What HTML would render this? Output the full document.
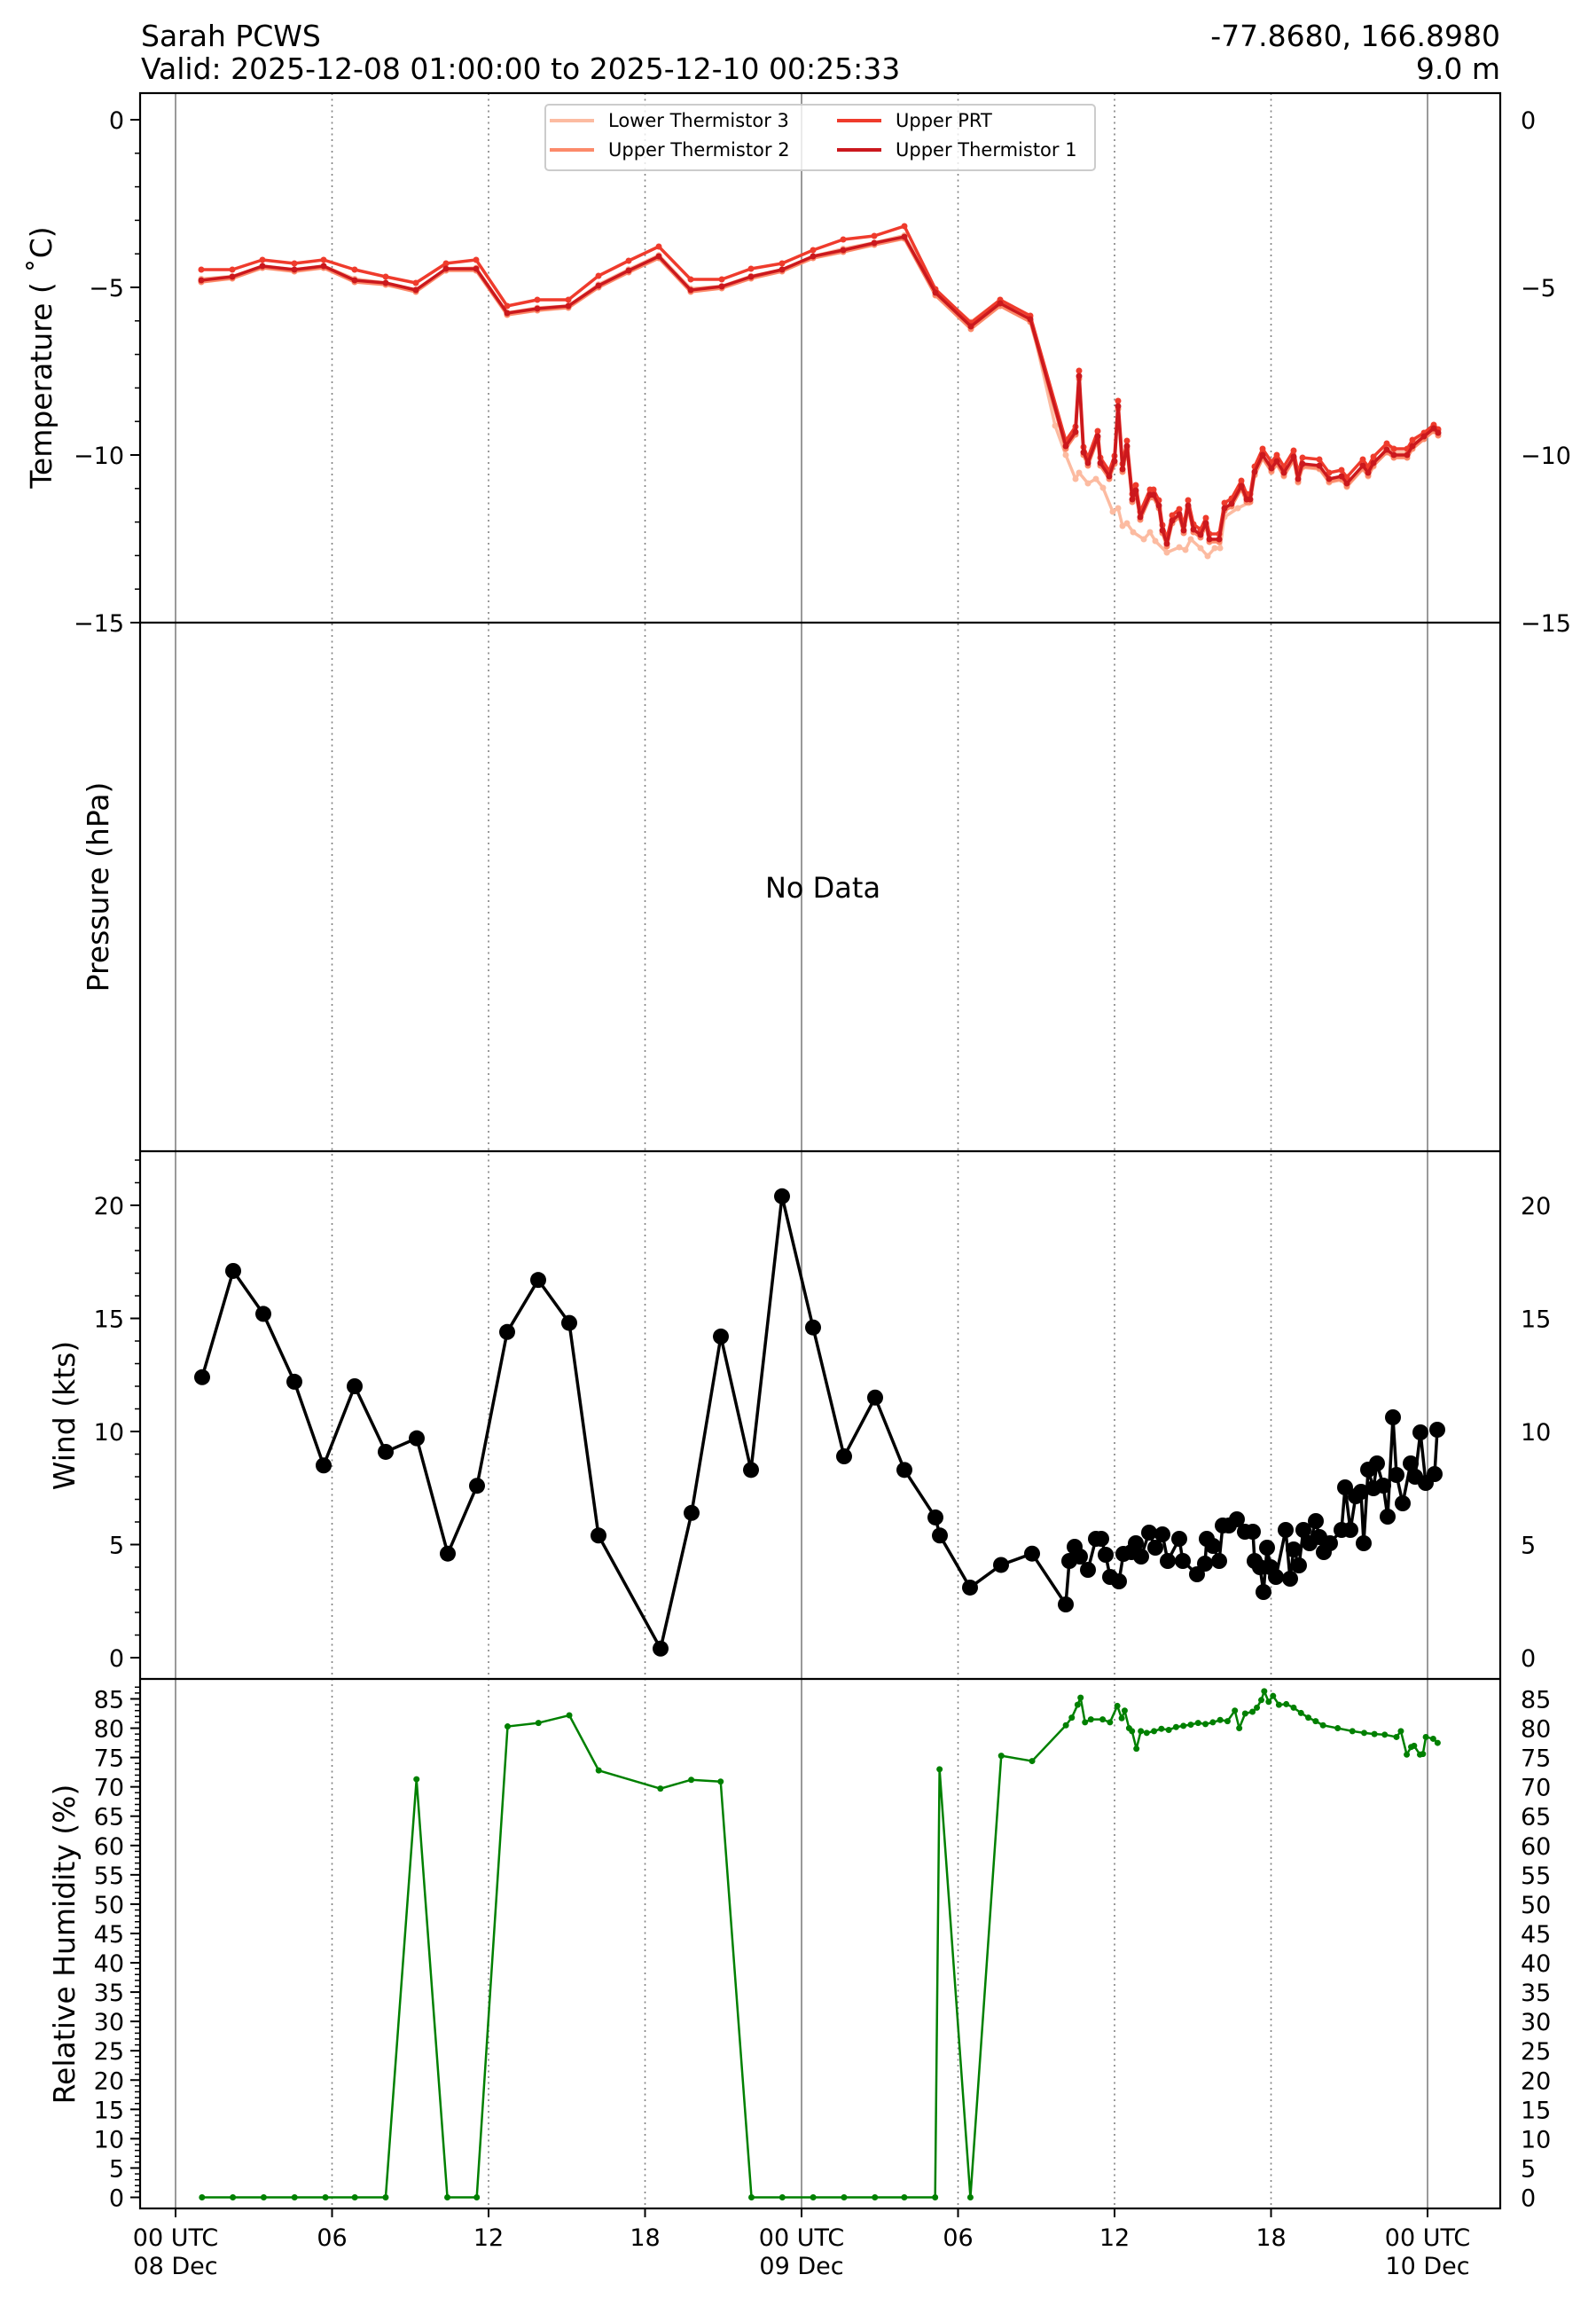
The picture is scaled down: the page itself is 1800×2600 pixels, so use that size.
<!DOCTYPE html>
<html><head><meta charset="utf-8">
<style>
html,body{margin:0;padding:0;background:#fff;}
svg{display:block;font-family:"DejaVu Sans","Liberation Sans",sans-serif;}
</style></head>
<body>
<svg id="c" width="1800" height="2600" viewBox="0 0 1800 2600" xmlns="http://www.w3.org/2000/svg">
<rect width="1800" height="2600" fill="#fff"/>
<text x="159" y="52" font-size="33">Sarah PCWS</text>
<text x="159" y="89" font-size="33">Valid: 2025-12-08 01:00:00 to 2025-12-10 00:25:33</text>
<text x="1692" y="52" font-size="33" text-anchor="end">-77.8680, 166.8980</text>
<text x="1692" y="89" font-size="33" text-anchor="end">9.0 m</text>
<g id="g"></g>
</svg>
<script>
(function(){
var G=document.getElementById('g'),out='';
var P=[105,702,1298,1893,2490];
function X(h){return 198+h*29.417;}
for(var i=0;i<=8;i++){var x=X(i*6);
 if(i%4==0) out+='<line x1="'+x+'" y1="105" x2="'+x+'" y2="2490" stroke="#808080" stroke-width="1.6"/>';
 else out+='<line x1="'+x+'" y1="105" x2="'+x+'" y2="2490" stroke="#808080" stroke-width="1.6" stroke-dasharray="2,4.5"/>';}
out+='<rect x="158" y="105" width="1534" height="2385" fill="none" stroke="#000" stroke-width="2.2"/>';
for(var i=1;i<4;i++) out+='<line x1="158" y1="'+P[i]+'" x2="1692" y2="'+P[i]+'" stroke="#000" stroke-width="2.2"/>';
var lab=[["00 UTC","08 Dec"],["06"],["12"],["18"],["00 UTC","09 Dec"],["06"],["12"],["18"],["00 UTC","10 Dec"]];
for(var i=0;i<=8;i++){var x=X(i*6);
 out+='<line x1="'+x+'" y1="2490" x2="'+x+'" y2="2500" stroke="#000" stroke-width="2"/>';
 out+='<text x="'+x+'" y="2532" font-size="27" text-anchor="middle">'+lab[i][0]+'</text>';
 if(lab[i][1]) out+='<text x="'+x+'" y="2564" font-size="27" text-anchor="middle">'+lab[i][1]+'</text>';}
function yt(vals,fy,minor,fmt){
 for(var k=0;k<minor.length;k++){var y=fy(minor[k]);out+='<line x1="152" y1="'+y+'" x2="158" y2="'+y+'" stroke="#000" stroke-width="1.5"/>';}
 for(var k=0;k<vals.length;k++){var v=vals[k],y=fy(v),s=fmt(v);
  out+='<line x1="147" y1="'+y+'" x2="158" y2="'+y+'" stroke="#000" stroke-width="2"/>';
  out+='<text x="140" y="'+(y+10)+'" font-size="27" text-anchor="end">'+s+'</text>';
  out+='<text x="1715" y="'+(y+10)+'" font-size="27">'+s+'</text>';}
}
function fm(v){return v<0?'\u2212'+(-v):''+v;}
function TY(t){return 135-t*37.8;}
var mn=[];for(var t=0;t>=-15;t--)mn.push(t);
yt([0,-5,-10,-15],TY,mn,fm);
function WY(v){return 1869-v*25.5;}
mn=[];for(var v=0;v<=22;v++)mn.push(v);
yt([0,5,10,15,20],WY,mn,fm);
function HY(v){return 2477.5-v*6.612;}
mn=[];for(var v=0;v<=87;v++)mn.push(v);
var mj=[];for(var v=0;v<=85;v+=5)mj.push(v);
yt(mj,HY,mn,fm);
function yl(t,x,y){out+='<text transform="translate('+x+','+y+') rotate(-90)" font-size="33" text-anchor="middle">'+t+'</text>';}
yl('Temperature ( \u02DAC)',58,403);
yl('Pressure (hPa)',122,1000);
yl('Wind (kts)',84,1596);
yl('Relative Humidity (%)',84,2192);
out+='<text x="928" y="1012" font-size="32" text-anchor="middle">No Data</text>';
var xs=[227,262,296,332,365,400,435,469,503,537,572,606,641,675,709,743,779,814,847,882,917,951,986,1020];
var prtE=[304,304,293,297,293,304,312,319,297,293,345,338,338,311,294,278,315,315,303,297,282,270,266,255];
var d1E=[316,312,300,304,300,316,319,327,303,303,353,348,345,322,305,289,327,323,312,304,289,282,274,267];
var late=[[1055,330],[1095,368],[1128,342],[1162,360],[1202,503],[1213,487],[1217,424],[1222,510],[1227,522],[1238,492],[1241,522],[1251,537],[1257,520],[1261,458],[1266,529],[1271,503],[1277,563],[1281,553],[1286,583],[1297,558],[1301,558],[1307,570],[1311,598],[1316,613],[1322,587],[1330,580],[1335,598],[1340,570],[1346,597],[1354,603],[1360,590],[1364,608],[1375,608],[1381,573],[1389,568],[1400,548],[1406,563],[1410,563],[1415,532],[1424,513],[1434,528],[1440,520],[1448,533],[1459,515],[1464,540],[1469,523],[1488,525],[1499,540],[1513,537],[1519,545],[1537,525],[1543,533],[1549,522],[1564,507],[1572,513],[1587,513],[1593,503],[1606,492],[1617,483],[1622,488]];
var low3=[[1202,513],[1213,540],[1217,533],[1227,545],[1236,540],[1244,550],[1255,577],[1261,573],[1266,593],[1271,590],[1278,600],[1290,608],[1297,600],[1303,610],[1316,623],[1330,617],[1337,620],[1343,608],[1354,618],[1362,627],[1370,618],[1376,618],[1381,583],[1396,573],[1408,567]];
function mk(arr,dy){var r=[];for(var i=0;i<arr.length;i++)r.push([arr[i][0],arr[i][1]+dy]);return r;}
var d1=[];for(var i=0;i<xs.length;i++)d1.push([xs[i],d1E[i]]);
var prt=[];for(var i=0;i<xs.length;i++)prt.push([xs[i],prtE[i]]);
var t2=[];for(var i=0;i<xs.length;i++)t2.push([xs[i],d1E[i]+2]);
var t3=[];for(var i=0;i<xs.length;i++)t3.push([xs[i],d1E[i]-3+(prtE[i]-d1E[i])*0.3+5]);
var pl=[];for(var i=0;i<late.length;i++){var x=late[i][0],y=late[i][1];var off=(x>1195&&x<1420)?-6:(x>=1420&&x<1600?-7:-4);pl.push([x,y+off]);}
d1=d1.concat(late);prt=prt.concat(pl);t2=t2.concat(mk(late,3));
var t3l=[[1055,328],[1095,363],[1128,338],[1162,357],[1190,480]].concat(low3);
for(var i=0;i<late.length;i++)if(late[i][0]>1410)t3l.push([late[i][0],late[i][1]+(late[i][0]<1560?4:-3)]);
t3=t3.concat(t3l);
function series(pts,col,w,r){var s='';for(var i=0;i<pts.length;i++)s+=(i?'L':'M')+pts[i][0]+' '+pts[i][1];
 out+='<path d="'+s+'" fill="none" stroke="'+col+'" stroke-width="'+w+'" stroke-linejoin="round"/>';
 for(var i=0;i<pts.length;i++)out+='<circle cx="'+pts[i][0]+'" cy="'+pts[i][1]+'" r="'+r+'" fill="'+col+'"/>';}
series(t3,'#fcbba1',3.5,3.5);
series(t2,'#fc8a6a',3.5,3.5);
series(prt,'#ef3b2c',3.5,3.5);
series(d1,'#cb181d',3.5,3.5);
out+='<rect x="615" y="118" width="620" height="74" rx="4" fill="#fff" fill-opacity="0.8" stroke="#ccc" stroke-width="2"/>';
var lg=[[620,136,'#fcbba1','Lower Thermistor 3'],[620,169,'#fc8a6a','Upper Thermistor 2'],[944,136,'#ef3b2c','Upper PRT'],[944,169,'#cb181d','Upper Thermistor 1']];
for(var i=0;i<4;i++){var a=lg[i];out+='<line x1="'+a[0]+'" y1="'+a[1]+'" x2="'+(a[0]+50)+'" y2="'+a[1]+'" stroke="'+a[2]+'" stroke-width="4"/>';
 out+='<text x="'+(a[0]+66)+'" y="'+(a[1]+7)+'" font-size="21">'+a[3]+'</text>';}
var wv=[[228,12.4],[263,17.1],[297,15.2],[332,12.2],[365,8.5],[400,12.0],[435,9.1],[470,9.7],[505,4.6],[538,7.6],[572,14.4],[607,16.7],[642,14.8],[675,5.4],[745,0.4],[780,6.4],[813,14.2],[847,8.3],[882,20.4],[917,14.6],[952,8.9],[987,11.5],[1020,8.3],[1055,6.2],[1060,5.4],[1094,3.1],[1129,4.1],[1164,4.6]];
var wp=[];for(var i=0;i<wv.length;i++)wp.push([wv[i][0],WY(wv[i][1])]);
var wd=[[1202,1809],[1206,1760],[1212,1744],[1218,1755],[1227,1770],[1236,1735],[1242,1735],[1247,1753],[1252,1778],[1262,1783],[1267,1752],[1276,1750],[1281,1740],[1287,1755],[1296,1728],[1303,1745],[1311,1730],[1317,1760],[1330,1735],[1334,1760],[1350,1775],[1359,1763],[1361,1735],[1368,1743],[1375,1760],[1379,1720],[1386,1720],[1395,1713],[1404,1727],[1413,1727],[1415,1760],[1421,1767],[1425,1795],[1429,1745],[1433,1767],[1439,1778],[1450,1725],[1455,1780],[1459,1747],[1465,1765],[1470,1725],[1477,1740],[1484,1715],[1488,1733],[1493,1750],[1500,1740],[1513,1725],[1517,1677],[1523,1725],[1529,1687],[1535,1682],[1538,1740],[1543,1657],[1549,1678],[1553,1650],[1560,1675],[1565,1710],[1571,1598],[1575,1663],[1582,1695],[1591,1650],[1596,1665],[1602,1615],[1608,1672],[1618,1662],[1621,1612]];
wp=wp.concat(wd);
series(wp,'#000',3.5,9);
var rv=[[137,0],[158,0],[179,0],[200,0],[221,0],[241,0],[262,0],[283,71.3],[304,0],[324,0],[345,80.3],[366,80.9],[387,82.2],[407,72.8],[449,69.7],[470,71.2],[490,70.9],[511,0],[532,0],[553,0],[574,0],[595,0],[615,0],[636,0],[639,73],[660,0],[681,75.3],[702,74.4],[725,80.5],[729,81.8],[733,84],[735,85.2],[738,81],[742,81.5],[750,81.5],[755,81],[760,83.8],[763,81.7],[765,83],[768,80],[770,79.5],[773,76.5],[776,79.5],[780,79.2],[785,79.5],[790,79.9],[795,79.7],[800,80.2],[805,80.4],[810,80.6],[815,80.9],[820,80.7],[825,81],[830,81.4],[835,81.2],[840,83],[843,80],[847,82.5],[852,82.8],[855,83.5],[858,84.8],[860,86.3],[863,84.5],[866,85.5],[870,84],[875,84.1],[880,83.5],[885,82.6],[890,81.8],[895,81.2],[900,80.5],[910,80.0],[920,79.5],[928,79.2],[935,79],[942,78.9],[950,78.5],[953,79.5],[957,75.5],[960,76.8],[962,77],[966,75.5],[968,75.6],[970,78.5],[975,78.2],[978,77.5]];
var rp=[];for(var i=0;i<rv.length;i++)rp.push([198+(rv[i][0]-119)*1.657,HY(rv[i][1])]);
series(rp,'#008000',2.5,3.5);
G.innerHTML=out;
})();
</script>
</body></html>
